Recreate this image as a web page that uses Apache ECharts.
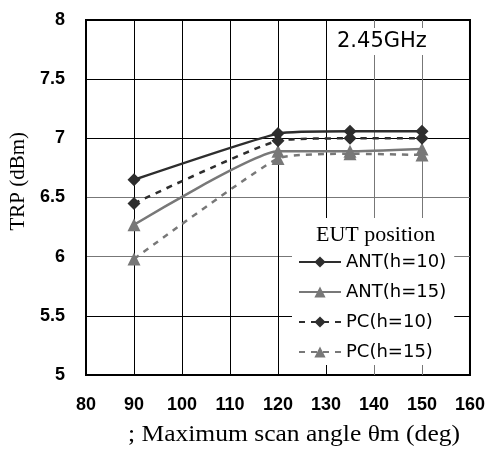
<!DOCTYPE html>
<html><head><meta charset="utf-8">
<script src="https://cdn.jsdelivr.net/npm/echarts@6/dist/echarts.min.js"></script>
<style>html,body{margin:0;padding:0;background:#fff}#c{width:488px;height:451px}</style>
</head><body><div id="c"></div>
<script>
var xValues = [90, 120, 135, 150];
var antH10 = [6.65, 7.04, 7.06, 7.06];
var antH15 = [6.27, 6.89, 6.89, 6.91];
var pcH10 = [6.45, 6.98, 7.00, 7.00];
var pcH15 = [5.98, 6.83, 6.87, 6.86];
var seriesNames = ['ANT(h=10)', 'ANT(h=15)', 'PC(h=10)', 'PC(h=15)'];

function pairs(vals){ return xValues.map(function(x,i){ return [x, vals[i]]; }); }

var dark = '#2e2e2e', gray = '#787878';
var chart = echarts.init(document.getElementById('c'));
function mk(name, vals, color, type, symbol, size){
  return {
    name: name, type: 'line', data: pairs(vals), smooth: 0.15,
    symbol: symbol, symbolSize: size,
    lineStyle: {color: color, width: 2.5, type: type},
    itemStyle: {color: color},
    emphasis: {disabled: true}
  };
}
chart.setOption({
  animation: false,
  grid: {left: 86, top: 20, width: 384, height: 355, show: true, borderColor: '#000', borderWidth: 2, backgroundColor: 'transparent'},
  xAxis: {
    type: 'value', min: 80, max: 160, interval: 10,
    axisLine: {show: false}, axisTick: {show: false},
    axisLabel: {margin: 21, color: '#000', fontFamily: 'Liberation Sans', fontWeight: 'bold', fontSize: 18},
    splitLine: {show: true, lineStyle: {width: 1, color: ['#000','#000','#000','#000','#000','#000','#777','#777','#000']}}
  },
  yAxis: {
    type: 'value', min: 5, max: 8, interval: 0.5,
    axisLine: {show: false}, axisTick: {show: false},
    axisLabel: {margin: 21, color: '#000', fontFamily: 'Liberation Sans', fontWeight: 'bold', fontSize: 18},
    splitLine: {show: true, lineStyle: {width: 1, color: ['#000','#000','#777','#777','#000','#000','#000']}}
  },
  legend: {
    orient: 'vertical', left: 292, top: 218,
    padding: [34, 8, 3, 6],
    backgroundColor: '#fff',
    itemWidth: 42, itemHeight: 14, itemGap: 10,
    data: seriesNames,
    textStyle: {fontFamily: 'DejaVu Sans', fontSize: 18, color: '#000', lineHeight: 20}
  },
  graphic: [
    {type: 'text', left: 333, top: 28, z: 10, style: {text: '2.45GHz', fontFamily: 'DejaVu Sans', fontSize: 21, fill: '#000', backgroundColor: '#fff', padding: [3, 4, 3, 4]}},
    {type: 'text', left: 316, top: 224, z: 10, style: {text: 'EUT position', fontFamily: 'Liberation Serif', fontSize: 22, fill: '#000'}},
    {type: 'text', x: 128, y: 423, scaleX: 1.11, z: 10, style: {text: '; Maximum scan angle θm (deg)', fontFamily: 'Liberation Serif', fontSize: 23, fill: '#000'}},
    {type: 'text', left: 8, top: 132, rotation: Math.PI/2, z: 10, style: {text: 'TRP (dBm)', fontFamily: 'Liberation Serif', fontSize: 21, fill: '#000'}}
  ],
  series: [
    mk(seriesNames[0], antH10, dark, 'solid', 'diamond', 13),
    mk(seriesNames[1], antH15, gray, 'solid', 'triangle', 13),
    mk(seriesNames[2], pcH10, dark, [6, 6], 'diamond', 13),
    mk(seriesNames[3], pcH15, gray, [6, 6], 'triangle', 13)
  ]
});
</script></body></html>
